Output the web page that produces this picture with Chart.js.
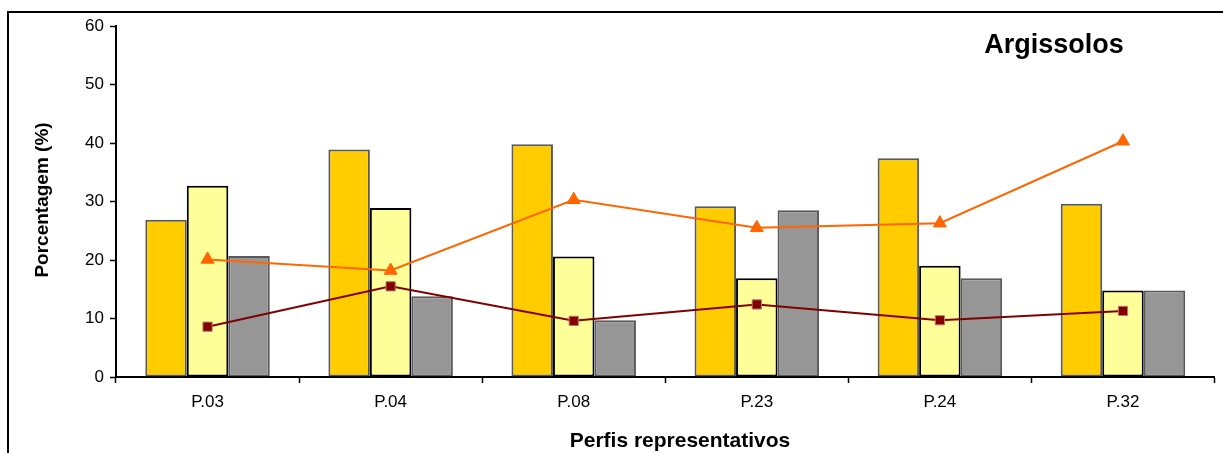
<!DOCTYPE html>
<html>
<head>
<meta charset="utf-8">
<script src="https://cdn.jsdelivr.net/npm/chart.js@4.4.1/dist/chart.umd.min.js"></script>
<style>
  html, body { margin: 0; padding: 0; background: #fff; }
  #wrap { position: relative; width: 1223px; height: 453px; }
</style>
</head>
<body>
<div id="wrap"><canvas id="c" width="1223" height="453"></canvas></div>
<script>
// Perfis e percentuais por perfil
const categories = ['P.03', 'P.04', 'P.08', 'P.23', 'P.24', 'P.32'];
const serieLaranja = [26.9, 38.9, 39.8, 29.2, 37.4, 29.6];
const serieAmarela = [32.7, 28.9, 20.6, 16.9, 19.0, 14.8];
const serieCinza   = [20.7, 13.8, 9.7, 28.5, 16.9, 14.8];
const linhaTriangulo = [20.1, 18.2, 30.3, 25.5, 26.3, 40.3];
const linhaQuadrado  = [8.6, 15.5, 9.6, 12.4, 9.7, 11.3];
const yTicks = [0, 10, 20, 30, 40, 50, 60];

const chartTitle = 'Argissolos';
const yTitle = 'Porcentagem (%)';
const xTitle = 'Perfis representativos';

const FONT = '"Liberation Sans", Arial, sans-serif';

// Moldura, título e títulos dos eixos
const decor = {
  id: 'decor',
  beforeDraw(chart) {
    const ctx = chart.ctx;
    ctx.save();
    ctx.fillStyle = '#fff';
    ctx.fillRect(0, 0, chart.width, chart.height);
    ctx.strokeStyle = '#000';
    ctx.lineWidth = 2;
    ctx.beginPath();
    ctx.moveTo(8, 460);
    ctx.lineTo(8, 12);
    ctx.lineTo(1230, 12);
    ctx.stroke();
    ctx.restore();
  },
  afterDraw(chart) {
    const ctx = chart.ctx;
    ctx.save();
    ctx.fillStyle = '#000';
    ctx.textBaseline = 'middle';
    ctx.textAlign = 'center';
    ctx.font = 'bold 27px ' + FONT;
    ctx.fillText(chartTitle, 1054, 46);
    ctx.font = 'bold 21px ' + FONT;
    ctx.fillText(xTitle, 680, 441);
    ctx.translate(43, 200);
    ctx.rotate(-Math.PI / 2);
    ctx.font = 'bold 19px ' + FONT;
    ctx.fillText(yTitle, 0, 0);
    ctx.restore();
  }
};

const barBase = { type: 'bar', borderWidth: 2, borderSkipped: false, order: 2 };

new Chart(document.getElementById('c'), {
  data: {
    labels: categories,
    datasets: [
      { ...barBase, label: 'a', data: serieLaranja, backgroundColor: '#FFCC00', borderColor: 'rgba(60,60,60,0.85)' },
      { ...barBase, label: 'b', data: serieAmarela, backgroundColor: '#FFFF99', borderColor: '#000' },
      { ...barBase, label: 'c', data: serieCinza, backgroundColor: '#969696', borderColor: 'rgba(60,60,60,0.85)' },
      { type: 'line', label: 'd', data: linhaTriangulo, borderColor: '#FF6600', borderWidth: 2,
        pointStyle: 'triangle', pointRadius: 7.5, pointBackgroundColor: '#FF6600', pointBorderColor: '#FF6600',
        pointBorderWidth: 1, tension: 0, order: 1 },
      { type: 'line', label: 'e', data: linhaQuadrado, borderColor: '#800000', borderWidth: 2,
        pointStyle: 'rect', pointRadius: 6.5, pointBackgroundColor: '#800000', pointBorderColor: '#C07070',
        pointBorderWidth: 1, tension: 0, order: 0 }
    ]
  },
  options: {
    responsive: false,
    animation: false,
    devicePixelRatio: 1,
    layout: { padding: { left: 0, top: 26, right: 7, bottom: 0 } },
    datasets: { bar: { barPercentage: 1, categoryPercentage: 0.68 } },
    plugins: { legend: { display: false }, tooltip: { enabled: false } },
    scales: {
      x: {
        offset: true,
        grid: { offset: true, drawOnChartArea: false, color: '#000', tickLength: 6, tickWidth: 1.5 },
        border: { color: '#000', width: 2 },
        ticks: { color: '#000', font: { family: FONT, size: 17 }, padding: 9 },
        afterFit(s) { s.height = 76; }
      },
      y: {
        min: 0, max: 60,
        afterBuildTicks(s) { s.ticks = yTicks.map(v => ({ value: v })); },
        grid: { drawOnChartArea: false, color: '#000', tickLength: 6, tickWidth: 1.5 },
        border: { color: '#000', width: 2 },
        ticks: { color: '#000', font: { family: FONT, size: 17 }, padding: 6 },
        afterFit(s) { s.width = 116; }
      }
    }
  },
  plugins: [decor]
});
</script>
</body>
</html>
